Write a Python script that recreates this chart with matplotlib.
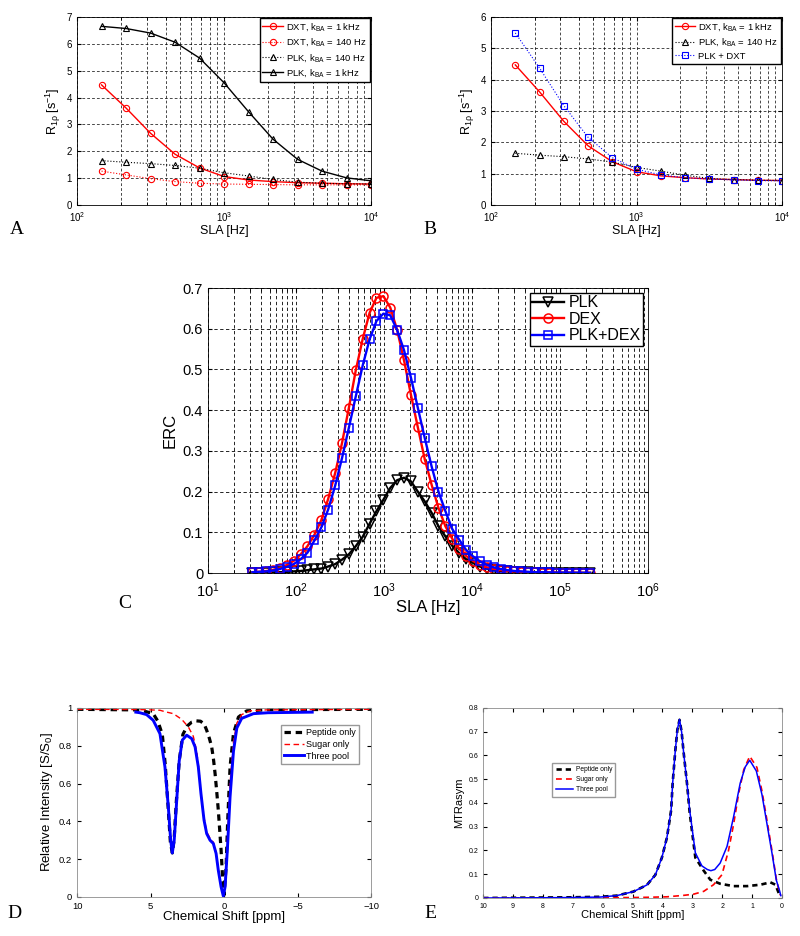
#!/usr/bin/env python3
"""Five-panel R1rho / ERC / Z-spectrum / MTRasym figure."""
import matplotlib
matplotlib.use("Agg")
import matplotlib.pyplot as plt
from matplotlib.ticker import FormatStrFormatter, LogLocator, MultipleLocator, NullFormatter

plt.rcParams.update({
    "font.family": ["Liberation Sans", "DejaVu Sans"],
    "mathtext.fontset": "custom",
    "mathtext.rm": "Liberation Sans",
    "mathtext.it": "Liberation Sans:italic",
    "mathtext.default": "regular",
    "axes.linewidth": 0.6,
    "legend.fancybox": False,
    "legend.edgecolor": "k",
    "legend.framealpha": 1.0,
})

RED, BLUE = "#ff0000", "#0000ff"

# --- panels A/B: R1rho vs spin-lock amplitude -------------------------------
sla_ab = [146.8, 215.4, 316.2, 464.2, 681.3, 1000, 1468, 2154, 3162, 4642, 6813, 10000]
dxt_1k = [4.47, 3.61, 2.67, 1.89, 1.38, 1.06, 0.93, 0.87, 0.83, 0.81, 0.79, 0.78]
dxt_140 = [1.26, 1.12, 0.98, 0.87, 0.81, 0.78, 0.77, 0.76, 0.75, 0.75, 0.75, 0.75]
plk_140 = [1.65, 1.59, 1.54, 1.47, 1.37, 1.20, 1.08, 0.95, 0.85, 0.81, 0.79, 0.78]
plk_1k = [6.65, 6.57, 6.40, 6.06, 5.47, 4.55, 3.47, 2.45, 1.70, 1.26, 1.01, 0.90]
plk_dxt = [5.49, 4.37, 3.17, 2.16, 1.51, 1.14, 0.96, 0.87, 0.83, 0.80, 0.78, 0.77]

# --- panel C: ERC vs SLA -----------------------------------------------------
sla_c = [32.0, 38.3, 45.9, 55.0, 65.8, 78.8, 94.4, 113, 135, 162,
         194, 232, 279, 334, 399, 478, 573, 686, 821, 984,
         1178, 1410, 1690, 2023, 2422, 2901, 3474, 4159, 4982, 5966,
         7145, 8555, 10250, 12270, 14690, 17600, 21080, 25240, 30200, 36220,
         43350, 51900, 62200, 74500, 89100, 106900, 127900, 153100, 183600, 219800]
erc_plk = [0.0005, 0.0008, 0.001, 0.0015, 0.002, 0.003, 0.004, 0.005, 0.007, 0.009,
           0.011, 0.016, 0.022, 0.033, 0.046, 0.066, 0.089, 0.121, 0.152, 0.180,
           0.209, 0.228, 0.234, 0.225, 0.200, 0.176, 0.148, 0.115, 0.090, 0.067,
           0.049, 0.034, 0.025, 0.016, 0.011, 0.007, 0.005, 0.004, 0.003, 0.002,
           0.0015, 0.001, 0.001, 0.0008, 0.0006, 0.0005, 0.0004, 0.0003, 0.0003, 0.0002]
erc_dex = [0.002, 0.003, 0.005, 0.008, 0.012, 0.020, 0.030, 0.046, 0.066, 0.094,
           0.130, 0.182, 0.246, 0.320, 0.406, 0.498, 0.575, 0.639, 0.676, 0.680,
           0.652, 0.597, 0.522, 0.438, 0.358, 0.280, 0.217, 0.160, 0.115, 0.084,
           0.060, 0.042, 0.030, 0.020, 0.014, 0.010, 0.007, 0.005, 0.004, 0.003,
           0.002, 0.0015, 0.001, 0.001, 0.0008, 0.0006, 0.0005, 0.0004, 0.0003, 0.0003]
erc_both = [0.002, 0.003, 0.004, 0.006, 0.010, 0.015, 0.022, 0.034, 0.050, 0.080,
            0.112, 0.156, 0.215, 0.283, 0.357, 0.434, 0.510, 0.574, 0.619, 0.637,
            0.633, 0.597, 0.547, 0.480, 0.406, 0.332, 0.262, 0.200, 0.152, 0.108,
            0.082, 0.057, 0.041, 0.029, 0.020, 0.014, 0.010, 0.007, 0.005, 0.004,
            0.003, 0.002, 0.002, 0.0015, 0.001, 0.001, 0.0008, 0.0006, 0.0005, 0.0004]

# --- panel D: Z-spectra --------------------------------------------------------
d_pep_ppm = [10, 6, 5.5, 4.82, 4.5, 4.2, 4.0, 3.8, 3.65, 3.52, 3.4, 3.25, 3.05, 2.8,
             2.5, 2.2, 1.9, 1.6, 1.35, 1.18, 1.0, 0.84, 0.72, 0.61, 0.5, 0.39, 0.3,
             0.2, 0.09, 0.0, -0.14, -0.25, -0.41, -0.64, -0.98, -1.55, -3, -10]
d_pep = [0.993, 0.99, 0.985, 0.97, 0.93, 0.86, 0.70, 0.47, 0.29, 0.233, 0.30, 0.50, 0.72, 0.86,
         0.905, 0.925, 0.932, 0.93, 0.915, 0.882, 0.84, 0.794, 0.73, 0.653, 0.56, 0.459, 0.36,
         0.247, 0.088, 0.01, 0.159, 0.406, 0.688, 0.864, 0.952, 0.985, 0.991, 0.993]
d_sug_ppm = [10, 6, 5.05, 4.36, 4.0, 3.45, 2.88, 2.43, 2.09, 1.86, 1.75, 1.57, 1.36, 1.18,
             0.95, 0.73, 0.54, 0.39, 0.2, 0.05, -0.07, -0.23, -0.41, -0.64, -0.87, -1.2,
             -1.77, -2.9, -10]
d_sug = [0.993, 0.992, 0.99, 0.988, 0.98, 0.97, 0.94, 0.90, 0.85, 0.77, 0.70, 0.56, 0.42, 0.345,
         0.31, 0.29, 0.235, 0.145, 0.055, 0.01, 0.06, 0.30, 0.60, 0.82, 0.92, 0.965,
         0.985, 0.99, 0.993]
d_all_ppm = [6.0, 5.73, 5.27, 4.82, 4.36, 4.02, 3.79, 3.63, 3.52, 3.39, 3.22, 3.05, 2.84, 2.54,
             2.2, 1.97, 1.75, 1.57, 1.36, 1.18, 0.95, 0.73, 0.54, 0.39, 0.2, 0.05, -0.07,
             -0.23, -0.41, -0.64, -0.87, -1.2, -2.0, -3.0, -6.0]
d_all = [0.978, 0.975, 0.965, 0.935, 0.864, 0.688, 0.476, 0.30, 0.233, 0.30, 0.51, 0.72, 0.83, 0.856,
         0.838, 0.794, 0.688, 0.547, 0.406, 0.335, 0.30, 0.283, 0.23, 0.141, 0.053, 0.005, 0.053,
         0.256, 0.53, 0.77, 0.894, 0.945, 0.97, 0.975, 0.978]

# --- panel E: MTRasym ----------------------------------------------------------
e_all_ppm = [10, 8, 7, 6.09, 5.53, 4.97, 4.52, 4.24, 4.02, 3.85, 3.71, 3.66, 3.57, 3.5, 3.43,
             3.36, 3.30, 3.18, 3.09, 2.9, 2.68, 2.5, 2.38, 2.25, 2.07, 1.84, 1.62, 1.4, 1.23,
             1.08, 0.86, 0.67, 0.5, 0.33, 0.19, 0.08, 0.04]
e_all = [0.0, 0.001, 0.002, 0.004, 0.01, 0.027, 0.055, 0.097, 0.17, 0.255, 0.37, 0.483, 0.622, 0.71, 0.752,
         0.70, 0.622, 0.483, 0.37, 0.19, 0.135, 0.12, 0.115, 0.12, 0.147, 0.217, 0.342, 0.483, 0.552,
         0.58, 0.535, 0.435, 0.31, 0.185, 0.075, 0.03, 0.01]
e_pep_ppm = [10, 8, 7, 6.09, 5.53, 4.97, 4.52, 4.24, 4.02, 3.85, 3.71, 3.66, 3.57, 3.5, 3.43,
             3.36, 3.30, 3.18, 3.09, 2.9, 2.62, 2.4, 2.07, 1.62, 1.17, 0.72, 0.39, 0.22, 0.11, 0.04]
e_pep = [0.0, 0.002, 0.003, 0.005, 0.01, 0.027, 0.055, 0.097, 0.17, 0.255, 0.37, 0.483, 0.622, 0.71, 0.75,
         0.70, 0.622, 0.483, 0.36, 0.17, 0.115, 0.077, 0.06, 0.05, 0.05, 0.056, 0.066, 0.056, 0.021, 0.01]
e_sug_ppm = [10, 8, 6, 5, 4.5, 3.85, 3.3, 2.96, 2.62, 2.29, 2.01, 1.79, 1.62, 1.45, 1.28, 1.08,
             0.84, 0.67, 0.5, 0.33, 0.19, 0.08, 0.04]
e_sug = [0.0, 0.0, 0.001, 0.002, 0.003, 0.005, 0.011, 0.016, 0.028, 0.056, 0.098, 0.20, 0.31, 0.44, 0.54, 0.597,
         0.55, 0.45, 0.325, 0.195, 0.08, 0.02, 0.01]


def matlab_box(ax, edge="k"):
    ax.tick_params(which="both", direction="in", top=True, right=True, colors="k")
    ax.tick_params(which="major", length=3)
    ax.tick_params(which="minor", length=2)
    for s in ax.spines.values():
        s.set_color(edge)


def dashed_grid(ax, lw=0.5):
    ax.grid(True, which="both", axis="x", color="k", lw=lw, ls=(0, (4, 3)))
    ax.grid(True, which="major", axis="y", color="k", lw=lw, ls=(0, (4, 3)))
    ax.set_axisbelow(True)


def log_x(ax):
    ax.set_xscale("log")
    ax.xaxis.set_major_locator(LogLocator(base=10, numticks=10))
    ax.xaxis.set_minor_locator(LogLocator(base=10, subs=range(2, 10), numticks=20))
    ax.xaxis.set_minor_formatter(NullFormatter())


fig = plt.figure(figsize=(8.0, 9.36), dpi=100)
axA = fig.add_axes([0.0963, 0.7810, 0.3675, 0.2009])
axB = fig.add_axes([0.6138, 0.7810, 0.3638, 0.2009])
axC = fig.add_axes([0.2600, 0.3878, 0.5500, 0.3045])
axD = fig.add_axes([0.0963, 0.0417, 0.3675, 0.2019])
axE = fig.add_axes([0.6040, 0.0406, 0.3735, 0.2030])

# (A)
ax = axA
ax.plot(sla_ab, dxt_1k, "-o", color=RED, lw=1.0, ms=4.5, mfc="none", mew=0.8,
        label="DXT, k$_{BA}$ = 1 kHz")
ax.plot(sla_ab, dxt_140, ":o", color=RED, lw=0.8, ms=4.5, mfc="none", mew=0.8,
        label="DXT, k$_{BA}$ = 140 Hz")
ax.plot(sla_ab, plk_140, ":^", color="k", lw=0.8, ms=4.5, mfc="none", mew=0.8,
        label="PLK, k$_{BA}$ = 140 Hz")
ax.plot(sla_ab, plk_1k, "-^", color="k", lw=1.0, ms=4.5, mfc="none", mew=0.8,
        label="PLK, k$_{BA}$ = 1 kHz")
log_x(ax)
ax.set_xlim(100, 10000)
ax.set_ylim(0, 7)
ax.yaxis.set_major_locator(MultipleLocator(1))
dashed_grid(ax)
matlab_box(ax)
ax.tick_params(labelsize=7)
ax.set_xlabel("SLA [Hz]", fontsize=9, labelpad=1)
ax.set_ylabel(r"R$_{1\rho}$ [s$^{-1}$]", fontsize=9, labelpad=3)
ax.legend(loc="upper right", fontsize=6.8, borderaxespad=0.15, handlelength=2.2,
          labelspacing=0.35, borderpad=0.3, handletextpad=0.3)

# (B)
ax = axB
ax.plot(sla_ab, dxt_1k, "-o", color=RED, lw=1.0, ms=4.5, mfc="none", mew=0.8,
        label="DXT, k$_{BA}$ = 1 kHz")
ax.plot(sla_ab, plk_140, ":^", color="k", lw=0.8, ms=4.5, mfc="none", mew=0.8,
        label="PLK, k$_{BA}$ = 140 Hz")
ax.plot(sla_ab, plk_dxt, ":s", color=BLUE, lw=0.8, ms=4, mfc="none", mew=0.8,
        label="PLK + DXT")
log_x(ax)
ax.set_xlim(100, 10000)
ax.set_ylim(0, 6)
ax.yaxis.set_major_locator(MultipleLocator(1))
dashed_grid(ax)
matlab_box(ax)
ax.tick_params(labelsize=7)
ax.set_xlabel("SLA [Hz]", fontsize=9, labelpad=1)
ax.set_ylabel(r"R$_{1\rho}$ [s$^{-1}$]", fontsize=9, labelpad=3)
ax.legend(loc="upper right", fontsize=6.8, borderaxespad=0.15, handlelength=2.2,
          labelspacing=0.35, borderpad=0.3, handletextpad=0.3)

# (C)
ax = axC
ax.plot(sla_c, erc_plk, "-v", color="k", lw=1.7, ms=6.5, mfc="none", mew=1.1, label="PLK")
ax.plot(sla_c, erc_dex, "-o", color=RED, lw=1.7, ms=6.5, mfc="none", mew=1.1, label="DEX")
ax.plot(sla_c, erc_both, "-s", color=BLUE, lw=1.7, ms=6, mfc="none", mew=1.1, label="PLK+DEX")
log_x(ax)
ax.set_xlim(10, 1e6)
ax.set_ylim(0, 0.7)
ax.yaxis.set_major_locator(MultipleLocator(0.1))
ax.yaxis.set_major_formatter(FormatStrFormatter("%g"))
dashed_grid(ax, lw=0.6)
matlab_box(ax)
ax.tick_params(labelsize=10.5)
ax.tick_params(axis="x", pad=6)
ax.set_xlabel("SLA [Hz]", fontsize=12, labelpad=0)
ax.set_ylabel("ERC", fontsize=12, labelpad=4)
ax.legend(loc="upper right", fontsize=11.5, borderaxespad=0.3, handlelength=2.0,
          labelspacing=0.1, borderpad=0.15, handletextpad=0.3)

# (D)
ax = axD
l1, = ax.plot(d_pep_ppm, d_pep, color="k", lw=2.3, ls=(0, (2, 1.5)), label="Peptide only")
l2, = ax.plot(d_sug_ppm, d_sug, color=RED, lw=1.0, ls=(0, (4, 2.5)), label="Sugar only")
l3, = ax.plot(d_all_ppm, d_all, color=BLUE, lw=2.1, label="Three pool")
ax.set_xlim(10, -10)
ax.set_ylim(0, 1)
ax.xaxis.set_major_locator(MultipleLocator(5))
ax.yaxis.set_major_locator(MultipleLocator(0.2))
ax.yaxis.set_major_formatter(FormatStrFormatter("%g"))
matlab_box(ax, edge="0.55")
ax.tick_params(labelsize=6.8)
ax.set_xlabel("Chemical Shift [ppm]", fontsize=9.5, labelpad=0)
ax.set_ylabel("Relative Intensity [S/S$_0$]", fontsize=9.5, labelpad=3)
ax.legend(handles=[l1, l2, l3], loc="upper right", bbox_to_anchor=(0.96, 0.91),
          fontsize=6.5, borderaxespad=0, handlelength=2.2, labelspacing=0.3,
          borderpad=0.35, handletextpad=0.3, edgecolor="0.6")

# (E)
ax = axE
e1, = ax.plot(e_pep_ppm, e_pep, color="k", lw=1.9, ls=(0, (2, 1.5)), label="Peptide only")
e2, = ax.plot(e_sug_ppm, e_sug, color=RED, lw=1.2, ls=(0, (3.5, 2.5)), label="Sugar only")
e3, = ax.plot(e_all_ppm, e_all, color=BLUE, lw=1.1, label="Three pool")
ax.set_xlim(10, 0)
ax.set_ylim(0, 0.8)
ax.xaxis.set_major_locator(MultipleLocator(1))
ax.yaxis.set_major_locator(MultipleLocator(0.1))
ax.yaxis.set_major_formatter(FormatStrFormatter("%g"))
matlab_box(ax, edge="0.55")
ax.tick_params(labelsize=5)
ax.set_xlabel("Chemical Shift [ppm]", fontsize=8, labelpad=0)
ax.set_ylabel("MTRasym", fontsize=8, labelpad=3)
ax.legend(handles=[e1, e2, e3], loc="upper left", bbox_to_anchor=(0.231, 0.71),
          fontsize=4.8, borderaxespad=0, handlelength=2.6, labelspacing=0.45,
          borderpad=0.5, handletextpad=0.4, edgecolor="0.6")

# panel letters
for letter, x, y in [("A", 17, 230), ("B", 430, 230), ("C", 125, 603),
                     ("D", 14, 914), ("E", 430, 914)]:
    fig.text(x / 800, 1 - y / 936, letter, family="Liberation Serif", fontsize=14,
             ha="center", va="center")

fig.savefig("out.png", dpi=100)
